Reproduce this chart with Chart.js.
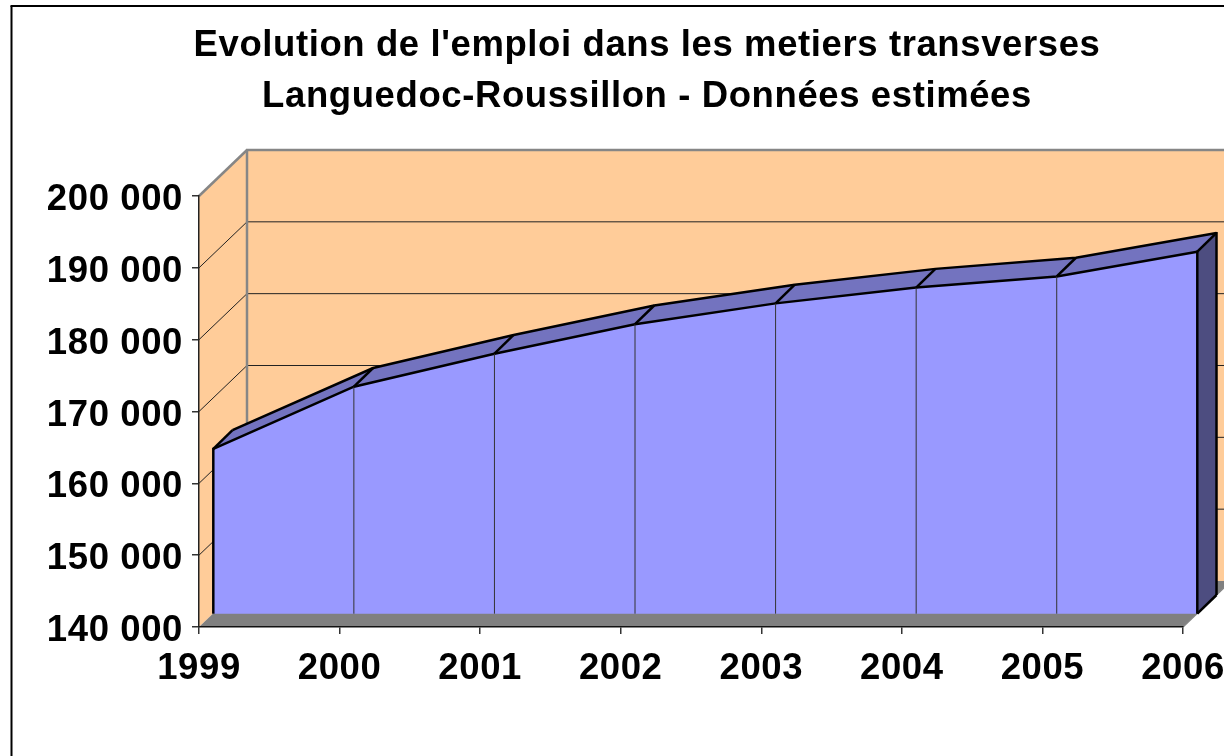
<!DOCTYPE html>
<html><head><meta charset="utf-8">
<script src="https://cdn.jsdelivr.net/npm/chart.js@4"></script>
<style>html,body{margin:0;padding:0;background:#fff;overflow:hidden}#w{width:1224px;height:756px}</style>
</head><body><div id="w"><canvas id="c"></canvas></div>
<script>
const titleLines = ["Evolution de l'emploi dans les metiers transverses", "Languedoc-Roussillon - Données estimées"];
const years = ['1999','2000','2001','2002','2003','2004','2005','2006'];
const employment = [162950,171600,176200,180300,183200,185400,186950,190400];
const axisMin = 140000, axisMax = 200000, axisStep = 10000;

const FONT = {family:'"Liberation Sans", Arial, sans-serif', size:36.5, weight:'bold'};
const C = {wall:'#FFCC99', edge:'#868686', floor:'#808080', front:'#9999FF', top:'#7373BF', side:'#4D4D80'};

class ShiftLinear extends Chart.LinearScale {
  getPixelForValue(v){ return super.getPixelForValue(v) + this.options.shift; }
}
ShiftLinear.id = 'shiftLinear'; ShiftLinear.defaults = Chart.LinearScale.defaults;
class ShiftCategory extends Chart.CategoryScale {
  getPixelForValue(v,i){ return super.getPixelForValue(v,i) + this.options.shift; }
}
ShiftCategory.id = 'shiftCategory'; ShiftCategory.defaults = Chart.CategoryScale.defaults;
Chart.register(ShiftLinear, ShiftCategory);

const DEPTH = {x:48, y:-46};
const TITLE_LEFT = 111;
function poly(ctx, pts, fill){
  ctx.beginPath(); pts.forEach((p,i)=> i?ctx.lineTo(p[0],p[1]):ctx.moveTo(p[0],p[1])); ctx.closePath();
  ctx.fillStyle = fill; ctx.fill();
}
function seg(ctx, a, b, col, w){
  ctx.beginPath(); ctx.moveTo(a[0],a[1]); ctx.lineTo(b[0],b[1]);
  ctx.strokeStyle = col; ctx.lineWidth = w; ctx.stroke();
}
let areaRight = null;
const scene = {
  id:'scene',
  beforeDraw(chart){
    const ctx = chart.ctx, x = chart.scales.x, y = chart.scales.y;
    ctx.letterSpacing = '0.6px';
    chart.titleBlock.left = TITLE_LEFT;
    const l = x.getPixelForDecimal(0), r = x.getPixelForDecimal(1);
    const t = y.getPixelForValue(axisMax), b = y.getPixelForValue(axisMin);
    ctx.save();
    ctx.lineCap = 'butt';
    seg(ctx,[11.5,756],[11.5,6],'#000',2); seg(ctx,[10.5,6],[1224,6],'#000',2);
    poly(ctx,[[l+DEPTH.x,t+DEPTH.y],[r+DEPTH.x,t+DEPTH.y],[r+DEPTH.x,b+DEPTH.y],[l+DEPTH.x,b+DEPTH.y]],C.wall);
    poly(ctx,[[l,t],[l+DEPTH.x,t+DEPTH.y],[l+DEPTH.x,b+DEPTH.y],[l,b]],C.wall);
    poly(ctx,[[l,b],[r,b],[r+DEPTH.x,b+DEPTH.y],[l+DEPTH.x,b+DEPTH.y]],C.floor);
    for(let v=axisMin+axisStep; v<axisMax; v+=axisStep){
      const p = y.getPixelForValue(v);
      seg(ctx,[l,p],[l+DEPTH.x,p+DEPTH.y],'#222',1);
      seg(ctx,[l+DEPTH.x,p+DEPTH.y],[r+DEPTH.x,p+DEPTH.y],'#222',1);
    }
    seg(ctx,[l,t],[l+DEPTH.x,t+DEPTH.y],C.edge,2.5);
    seg(ctx,[l+DEPTH.x-1,t+DEPTH.y],[r+DEPTH.x,t+DEPTH.y],C.edge,2.5);
    seg(ctx,[l+DEPTH.x,t+DEPTH.y],[l+DEPTH.x,b+DEPTH.y],C.edge,2.5);
    seg(ctx,[r,b],[r+DEPTH.x,b+DEPTH.y],C.edge,1.5);
    ctx.restore();
  },
  beforeDatasetsDraw(chart){
    const f = chart.getDatasetMeta(0).data, k = chart.getDatasetMeta(1).data, ctx = chart.ctx;
    poly(ctx,[[f[0].x,f[0].y],[k[0].x,k[0].y],[f[1].x,f[1].y]],C.top);
    areaRight = chart.chartArea.right;
    chart.chartArea.right = k[k.length-1].x;
  },
  afterDatasetsDraw(chart){
    chart.chartArea.right = areaRight;
    const ctx = chart.ctx;
    const f = chart.getDatasetMeta(0).data, k = chart.getDatasetMeta(1).data;
    const fb = chart.scales.yFront.getBasePixel(), kb = chart.scales.yBack.getBasePixel();
    const n = f.length-1;
    ctx.save();
    poly(ctx,[[f[n].x,f[n].y],[k[n].x,k[n].y],[k[n].x,kb],[f[n].x,fb]],C.side);
    for(let i=1;i<n;i++) seg(ctx,[f[i].x,f[i].y],[f[i].x,fb],'#333',1);
    f.forEach((p,i)=> seg(ctx,[p.x,p.y],[k[i].x,k[i].y],'#000',2.5));
    seg(ctx,[f[0].x,f[0].y-1],[f[0].x,fb],'#000',2.5);
    seg(ctx,[f[n].x,f[n].y-1],[f[n].x,fb],'#000',2.5);
    seg(ctx,[k[n].x,k[n].y-1],[k[n].x,kb],'#000',2.5);
    seg(ctx,[f[n].x,fb],[k[n].x,kb],'#000',2.5);
    ctx.restore();
  }
};

new Chart(document.getElementById('c'), {
  type:'line',
  plugins:[scene],
  data:{labels:years, datasets:[
    {data:employment, xAxisID:'xFront', yAxisID:'yFront', fill:'origin', backgroundColor:C.front, borderColor:'#000', borderWidth:2.5, pointRadius:0, tension:0, clip:false},
    {data:employment, xAxisID:'xBack', yAxisID:'yBack', fill:'origin', backgroundColor:C.top, borderColor:'#000', borderWidth:2.5, pointRadius:0, tension:0, clip:false}
  ]},
  options:{
    responsive:true, maintainAspectRatio:false, animation:false,
    layout:{padding:{left:0,right:41,top:0,bottom:0}},
    plugins:{
      legend:{display:false}, tooltip:{enabled:false},
      title:{display:true, text:titleLines, color:'#000', font:{...FONT,lineHeight:51/36.5}, padding:{top:20.5,bottom:73.5}}
    },
    scales:{
      x:{type:'category', offset:false,
        grid:{display:true,drawOnChartArea:false,drawTicks:true,tickLength:7,color:'#333',lineWidth:1.5},
        border:{display:true,color:'#111',width:1.5},
        ticks:{color:'#000',font:FONT,autoSkip:false,maxRotation:0,minRotation:0,padding:13},
        afterFit(s){s.height=129;s.paddingLeft=0;s.paddingRight=0;}
      },
      y:{type:'linear', min:axisMin, max:axisMax,
        grid:{display:true,drawOnChartArea:false,drawTicks:true,tickLength:7,color:'#333',lineWidth:1.5},
        border:{display:true,color:'#222',width:1.5},
        ticks:{color:'#000',font:FONT,stepSize:axisStep,padding:9,labelOffset:4,
          callback:v=>String(v).replace(/\B(?=(\d{3})+$)/g,' ')},
        afterFit(s){s.width=199;s.paddingTop=0;s.paddingBottom=0;}
      },
      xFront:{type:'shiftCategory',display:false,offset:false,shift:14.3},
      yFront:{type:'shiftLinear',display:false,min:axisMin,max:axisMax,shift:-13.3},
      xBack:{type:'shiftCategory',display:false,offset:false,shift:33.5},
      yBack:{type:'shiftLinear',display:false,min:axisMin,max:axisMax,shift:-32}
    }
  }
});
</script></body></html>
